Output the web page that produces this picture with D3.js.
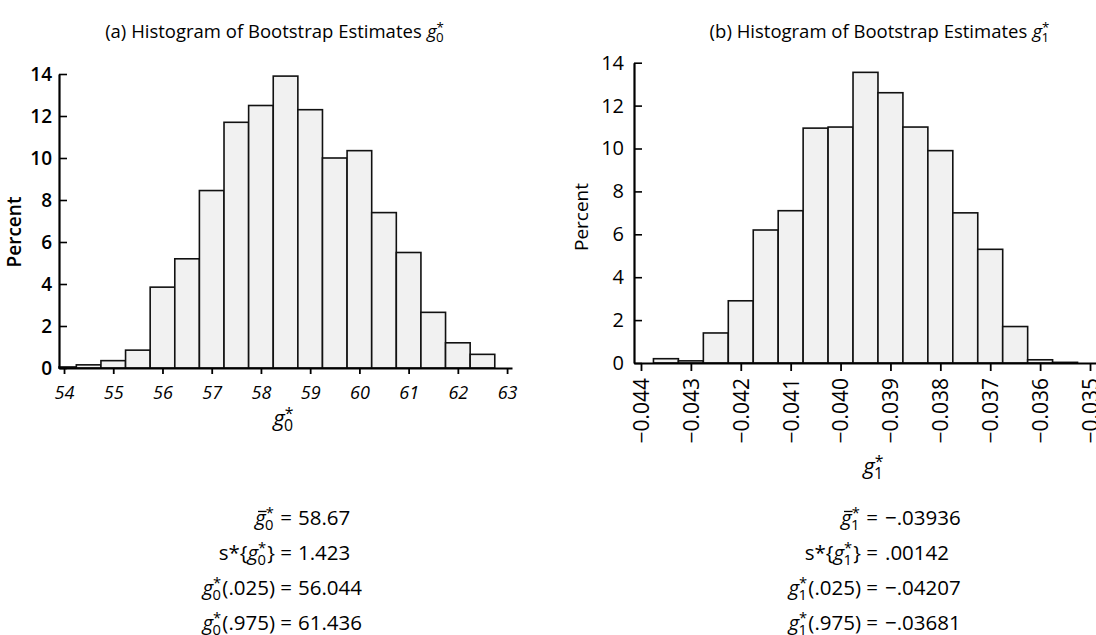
<!DOCTYPE html>
<html><head><meta charset="utf-8">
<script src="https://cdn.jsdelivr.net/npm/d3@7"></script>
<style>
html,body{margin:0;padding:0;background:#fff;}
svg{display:block;font-family:"Open Sans",sans-serif;}
</style></head>
<body><svg id="c" width="1096" height="635"></svg>
<script>
// ---- data ----
const g0Centers = [54.0,54.5,55.0,55.5,56.0,56.5,57.0,57.5,58.0,58.5,59.0,59.5,60.0,60.5,61.0,61.5,62.0,62.5];
const g0Percent = [0.05,0.15,0.35,0.85,3.85,5.2,8.45,11.7,12.5,13.9,12.3,10.0,10.35,7.4,5.5,2.65,1.2,0.65];
const g0BinWidth = 0.5;
const g0Ticks = [54,55,56,57,58,59,60,61,62,63];

const g1Centers = [-0.0435,-0.043,-0.0425,-0.042,-0.0415,-0.041,-0.0405,-0.040,-0.0395,-0.039,-0.0385,-0.038,-0.0375,-0.037,-0.0365,-0.036,-0.0355];
const g1Percent = [0.2,0.1,1.4,2.9,6.2,7.1,10.95,11.0,13.55,12.6,11.0,9.9,7.0,5.3,1.7,0.15,0.03];
const g1BinWidth = 0.0005;
const g1Ticks = [-0.044,-0.043,-0.042,-0.041,-0.040,-0.039,-0.038,-0.037,-0.036,-0.035];

const yTicks = [0,2,4,6,8,10,12,14];

const statsLeft = [
  {lhs:[{t:"g",i:true,sub:"0",sup:"*",bar:true}], rhs:"58.67"},
  {lhs:[{t:"s*{"},{t:"g",i:true,sub:"0",sup:"*"},{t:"}"}], rhs:"1.423"},
  {lhs:[{t:"g",i:true,sub:"0",sup:"*"},{t:"(.025)"}], rhs:"56.044"},
  {lhs:[{t:"g",i:true,sub:"0",sup:"*"},{t:"(.975)"}], rhs:"61.436"}
];
const statsRight = [
  {lhs:[{t:"g",i:true,sub:"1",sup:"*",bar:true}], rhs:"\u2212.03936"},
  {lhs:[{t:"s*{"},{t:"g",i:true,sub:"1",sup:"*"},{t:"}"}], rhs:".00142"},
  {lhs:[{t:"g",i:true,sub:"1",sup:"*"},{t:"(.025)"}], rhs:"\u2212.04207"},
  {lhs:[{t:"g",i:true,sub:"1",sup:"*"},{t:"(.975)"}], rhs:"\u2212.03681"}
];

const svg = d3.select("#c");

// rich text helper: parts laid out left to right, measured
function rich(parent, x, y, parts, anchor, size, weight){
  const g = parent.append("g");
  let cx = 0;
  parts.forEach(p=>{
    const t = g.append("text").attr("x",cx).attr("y",0)
      .style("font-size",size+"px").style("font-weight",weight||400)
      .style("font-style",p.i?"italic":"normal").text(p.t);
    const w = t.node().getComputedTextLength();
    if(p.bar){
      g.append("line").attr("x1",cx+size*0.14).attr("x2",cx+w+size*0.04)
        .attr("y1",-size*0.66).attr("y2",-size*0.66)
        .attr("stroke","#000").attr("stroke-width",1.3);
    }
    cx += w;
    if(p.sub||p.sup){
      let mw = 0;
      if(p.sup){
        const s = g.append("text").attr("x",cx).attr("y",-size*0.34)
          .style("font-size",(size*0.72)+"px").style("font-weight",weight||400).style("font-style","normal").text(p.sup);
        mw = Math.max(mw,s.node().getComputedTextLength());
      }
      if(p.sub){
        const s = g.append("text").attr("x",cx-size*0.03).attr("y",size*0.24)
          .style("font-size",(size*0.72)+"px").style("font-weight",weight||400).style("font-style","normal").text(p.sub);
        mw = Math.max(mw,s.node().getComputedTextLength());
      }
      cx += mw + size*0.04;
    }
    if(p.gap) cx += size*p.gap;
  });
  let ox = x;
  if(anchor==="end") ox = x - cx;
  else if(anchor==="middle") ox = x - cx/2;
  g.attr("transform",`translate(${ox},${y})`);
  return g;
}

function histogram(cfg){
  const x = d3.scaleLinear().domain(cfg.xDomain).range(cfg.xRange);
  const y = d3.scaleLinear().domain([0,14]).range(cfg.yRange);
  const root = svg.append("g");
  const data = cfg.centers.map((c,i)=>({c, v:cfg.values[i]}));
  root.append("g").selectAll("rect").data(data).join("rect")
    .attr("x",d=>Math.max(x(d.c-cfg.bw/2), cfg.xRange[0]))
    .attr("width",d=>x(d.c+cfg.bw/2)-Math.max(x(d.c-cfg.bw/2), cfg.xRange[0]))
    .attr("y",d=>y(d.v))
    .attr("height",d=>y(0)-y(d.v))
    .attr("fill","#f1f1f1").attr("stroke","#111").attr("stroke-width",1.6);

  // y axis
  const ya = root.append("g").attr("transform",`translate(${cfg.xRange[0]},0)`)
    .call(d3.axisLeft(y).tickValues(yTicks).tickSizeInner(-8).tickSizeOuter(0).tickPadding(cfg.yPad).tickFormat(d3.format("d")));
  ya.select(".domain").attr("stroke-width",2.2);
  ya.selectAll(".tick line").attr("stroke-width",1.6);
  ya.selectAll("text").style("font-size",cfg.yFont+"px").style("font-weight",cfg.yWeight)
    .style("font-family","'Open Sans',sans-serif").attr("fill","#000");

  // x axis
  const xa = root.append("g").attr("transform",`translate(0,${y(0)})`)
    .call(d3.axisBottom(x).tickValues(cfg.ticks).tickSizeInner(cfg.xTick).tickSizeOuter(0).tickFormat(cfg.fmt));
  xa.select(".domain").attr("stroke-width",2.2);
  xa.selectAll(".tick line").attr("stroke-width",1.8);
  xa.selectAll("text").style("font-family","'Open Sans',sans-serif").attr("fill","#000");
  cfg.styleX(xa.selectAll("text"));

  root.append("text").attr("transform",`translate(${cfg.pctX},${cfg.pctY}) rotate(-90)`)
    .attr("text-anchor","middle").style("font-size",cfg.pctFont+"px").style("font-weight",cfg.pctWeight)
    .text("Percent");
  return root;
}

histogram({
  centers:g0Centers, values:g0Percent, bw:g0BinWidth, ticks:g0Ticks,
  xDomain:[53.898,63.10], xRange:[59,512], yRange:[368,74],
  yPad:7, yFont:19, yWeight:600, xTick:6,
  fmt:d3.format("d"),
  styleX:s=>s.style("font-size","18px").style("font-style","italic").attr("dy","0.75em").attr("y",17),
  pctX:21, pctY:232, pctFont:19, pctWeight:600
});

histogram({
  centers:g1Centers, values:g1Percent, bw:g1BinWidth, ticks:g1Ticks,
  xDomain:[-0.04414,-0.03488], xRange:[634,1096], yRange:[363,62.7],
  yPad:10, yFont:20, yWeight:400, xTick:8,
  fmt:d3.format(".3f"),
  styleX:s=>s.style("font-size","21px").attr("y",0).attr("x",-15).attr("dy","0.35em")
    .attr("transform","rotate(-90)").style("text-anchor","end"),
  pctX:588, pctY:217, pctFont:19, pctWeight:400
});

// titles
rich(svg, 275, 38, [{t:"(a) Histogram of Bootstrap Estimates",gap:0.28},{t:"g",i:true,sub:"0",sup:"*"}], "middle", 18.5, 400);
rich(svg, 880, 38, [{t:"(b) Histogram of Bootstrap Estimates",gap:0.28},{t:"g",i:true,sub:"1",sup:"*"}], "middle", 18.5, 400);

// axis titles
rich(svg, 284, 426, [{t:"g",i:true,sub:"0",sup:"*"}], "middle", 22, 400);
rich(svg, 874, 474, [{t:"g",i:true,sub:"1",sup:"*"}], "middle", 22, 400);

// stats
const lineYs = [525,560,595,630];
const fs = 20.5;
statsLeft.forEach((s,i)=>{
  rich(svg, 275, lineYs[i], s.lhs, "end", fs, 400);
  svg.append("text").attr("x",286).attr("y",lineYs[i]).attr("text-anchor","middle").style("font-size",fs+"px").text("=");
  svg.append("text").attr("x",298).attr("y",lineYs[i]).style("font-size",fs+"px").text(s.rhs);
});
statsRight.forEach((s,i)=>{
  rich(svg, 861, lineYs[i], s.lhs, "end", fs, 400);
  svg.append("text").attr("x",872).attr("y",lineYs[i]).attr("text-anchor","middle").style("font-size",fs+"px").text("=");
  svg.append("text").attr("x",885).attr("y",lineYs[i]).style("font-size",fs+"px").text(s.rhs);
});
</script></body></html>
